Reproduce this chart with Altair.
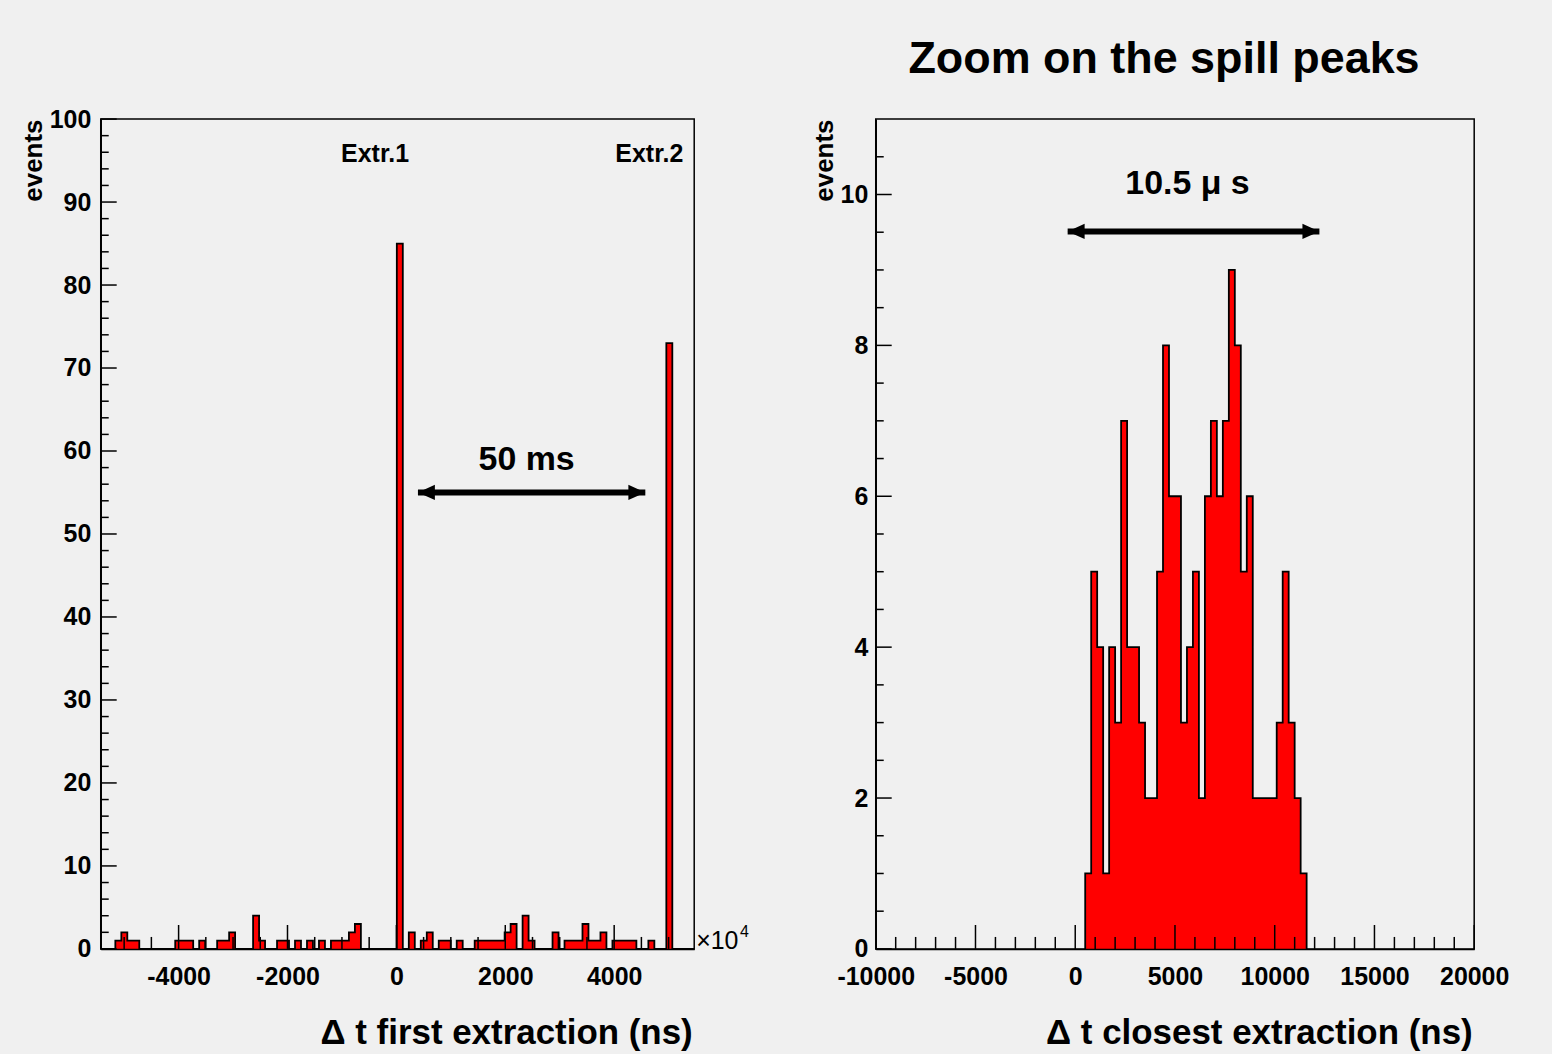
import altair as alt
import pandas as pd

FONT = "Liberation Sans"
BG = "#f0f0f0"
RED = "#ff0000"

# ---------------- data ----------------
# Left histogram: delta t to first extraction, in units of 1e4 ns
LEFT_LO = -5492
LEFT_W = 110
LEFT_N = 100
left_bin_index = [3, 4, 5, 6, 13, 14, 15, 17, 20, 21, 22, 26, 27, 30, 31, 33, 35, 37,
                  39, 40, 41, 42, 43, 50, 52, 54, 55, 57, 58, 60, 63, 64, 65, 66, 67,
                  68, 69, 71, 72, 76, 78, 79, 80, 81, 82, 83, 84, 86, 87, 88, 89, 92, 95]
left_bin_count = [1, 2, 1, 1, 1, 1, 1, 1, 1, 1, 2, 4, 1, 1, 1, 1, 1, 1,
                  1, 1, 1, 2, 3, 85, 2, 1, 2, 1, 1, 1, 1, 1, 1, 1, 1,
                  2, 3, 4, 1, 2, 1, 1, 1, 3, 1, 1, 2, 1, 1, 1, 1, 1, 73]

# Right histogram: delta t to closest extraction (ns)
RIGHT_LO = 500
RIGHT_W = 300
right_counts = [1, 5, 4, 1, 4, 3, 7, 4, 4, 3, 2, 2, 5, 8, 6, 6, 3, 4, 5, 2,
                6, 7, 6, 7, 9, 8, 5, 6, 2, 2, 2, 2, 3, 5, 3, 2, 1]

left_x_domain = [-5430, 5470]
left_y_domain = [0, 100]
right_x_domain = [-10000, 20000]
right_y_domain = [0, 11]

left_x_labels = [-4000, -2000, 0, 2000, 4000]
left_x_minor = [-5000, -4500, -3500, -3000, -2500, -1500, -1000, -500,
                500, 1000, 1500, 2500, 3000, 3500, 4500, 5000]
left_y_labels = [0, 10, 20, 30, 40, 50, 60, 70, 80, 90, 100]
left_y_minor = [v for v in range(2, 100, 2) if v % 10 != 0]
right_x_labels = [-10000, -5000, 0, 5000, 10000, 15000, 20000]
right_x_minor = [v for v in range(-9000, 20000, 1000) if v % 5000 != 0]
right_y_labels = [0, 2, 4, 6, 8, 10]
right_y_minor = [v / 2 for v in range(1, 22) if v % 4 != 0]

left_notes_text = ["Extr.1", "Extr.2"]
left_notes_x = [-392, 4645]
left_notes_y = [94.8, 94.8]
left_span_text = "50 ms"
left_span_x = 2392
left_span_y = 57.7
left_arrow_x = [396, 4572]
left_arrow_y = 55

right_span_text = "10.5 \u03bc s"
right_span_x = 5628
right_span_y = 10.0
right_arrow_x = [-380, 12240]
right_arrow_y = 9.51

LW, RW, H = 595, 600, 832
MAJ_X, MIN_X = 24, 12
MAJ_Y, MIN_Y = 16, 8
LABEL_EXPR = "'' + datum.value"

# ---------------- tables ----------------
lc = [0] * LEFT_N
for i, c in zip(left_bin_index, left_bin_count):
    lc[i] = c
left_area = pd.DataFrame({"x": [LEFT_LO + k * LEFT_W for k in range(LEFT_N + 1)],
                          "y": lc + [0]})
left_line = left_area.copy()
left_line["o"] = range(len(left_line))

rn = len(right_counts)
right_area = pd.DataFrame({"x": [RIGHT_LO + k * RIGHT_W for k in range(rn + 1)],
                           "y": right_counts + [0]})
right_line = pd.concat([pd.DataFrame({"x": [RIGHT_LO], "y": [0]}), right_area],
                       ignore_index=True)
right_line["o"] = range(len(right_line))


def make_panel(area_df, line_df, xdom, ydom, xlab, xmin, ylab, ymin, xtitle,
               xtitle_x, ytitle_x, ylabel_pad):
    xs = alt.Scale(domain=xdom, nice=False, zero=False)
    ys = alt.Scale(domain=ydom, nice=False, zero=False)
    xaxis = alt.Axis(values=xlab, labelExpr=LABEL_EXPR, ticks=False, grid=False,
                     domain=True, domainColor="black", domainWidth=1.5,
                     labelPadding=16, labelOverlap=False, labelFlush=False, zindex=1,
                     title=xtitle, titleX=xtitle_x, titleY=95, titleAlign="right",
                     titleBaseline="alphabetic", titleFontSize=35)
    yaxis = alt.Axis(values=ylab, labelExpr=LABEL_EXPR, ticks=False, grid=False,
                     domain=True, domainColor="black", domainWidth=1.5,
                     labelPadding=ylabel_pad, labelOverlap=False, labelFlush=False,
                     zindex=1, title="events", titleX=ytitle_x, titleY=0,
                     titleAngle=270, titleAlign="right", titleBaseline="top",
                     titleFontSize=26)

    def X(f):
        return alt.X(f, scale=xs, axis=xaxis)

    def Y(f):
        return alt.Y(f, scale=ys, axis=yaxis)

    layers = []
    layers.append(alt.Chart(area_df).mark_area(
        interpolate="step-after", color=RED, clip=True).encode(
        x=X("x:Q"), y=alt.Y("y:Q", scale=ys, axis=yaxis, stack=None)))
    layers.append(alt.Chart(line_df).mark_line(
        interpolate="step-after", color="black", strokeWidth=1.8, clip=True).encode(
        x=X("x:Q"), y=Y("y:Q"), order="o:Q"))
    for vals, ln in ((xlab, MAJ_X), (xmin, MIN_X)):
        layers.append(alt.Chart(pd.DataFrame({"v": vals})).mark_rule(
            color="black", strokeWidth=1.5).encode(
            x=X("v:Q"), y=alt.value(H), y2=alt.value(H - ln)))
    for vals, ln in ((ylab, MAJ_Y), (ymin, MIN_Y)):
        layers.append(alt.Chart(pd.DataFrame({"v": vals})).mark_rule(
            color="black", strokeWidth=1.5).encode(
            y=Y("v:Q"), x=alt.value(0), x2=alt.value(ln)))
    return X, Y, layers


def arrow(X, Y, xa, ya, size):
    r = alt.Chart(pd.DataFrame({"x1": [xa[0]], "x2": [xa[1]], "y": [ya]})).mark_rule(
        color="black", strokeWidth=6).encode(x=X("x1:Q"), x2="x2:Q", y=Y("y:Q"))
    hl = alt.Chart(pd.DataFrame({"x": [xa[0]], "y": [ya]})).mark_point(
        shape="M0,0L1,-0.45L1,0.45Z", filled=True, color="black", opacity=1,
        size=size).encode(x=X("x:Q"), y=Y("y:Q"))
    hr = alt.Chart(pd.DataFrame({"x": [xa[1]], "y": [ya]})).mark_point(
        shape="M0,0L-1,-0.45L-1,0.45Z", filled=True, color="black", opacity=1,
        size=size).encode(x=X("x:Q"), y=Y("y:Q"))
    return [r, hl, hr]


def text_layer(X, Y, texts, xv, yv, size, weight="bold", align="center", dx=0, dy=0):
    return alt.Chart(pd.DataFrame({"t": texts, "x": xv, "y": yv})).mark_text(
        font=FONT, fontWeight=weight, fontSize=size, baseline="alphabetic",
        align=align, dx=dx, dy=dy, color="black").encode(
        x=X("x:Q"), y=Y("y:Q"), text="t:N")


# ---------------- left panel ----------------
XL, YL, L = make_panel(left_area, left_line, left_x_domain, left_y_domain,
                       left_x_labels, left_x_minor, left_y_labels, left_y_minor,
                       "\u0394 t first extraction (ns)", LW - 2, -80, 10)
L.append(text_layer(XL, YL, left_notes_text, left_notes_x, left_notes_y, 25))
L.append(text_layer(XL, YL, [left_span_text], [left_span_x], [left_span_y], 34))
L += arrow(XL, YL, left_arrow_x, left_arrow_y, 1156)
L.append(text_layer(XL, YL, ["\u00d710"], [left_x_domain[1]], [0], 25,
                    weight="normal", align="left", dx=2))
L.append(text_layer(XL, YL, ["4"], [left_x_domain[1]], [0], 16,
                    weight="normal", align="left", dx=46, dy=-12))
left = alt.layer(*L).properties(width=LW, height=H)

# ---------------- right panel ----------------
XR, YR, R = make_panel(right_area, right_line, right_x_domain, right_y_domain,
                       right_x_labels, right_x_minor, right_y_labels, right_y_minor,
                       "\u0394 t closest extraction (ns)", RW - 2, -64, 8)
R.append(text_layer(XR, YR, [right_span_text], [right_span_x], [right_span_y], 34))
R += arrow(XR, YR, right_arrow_x, right_arrow_y, 1156)
right = alt.layer(*R).properties(
    width=RW, height=H,
    title=alt.TitleParams("Zoom on the spill peaks", font=FONT, fontWeight="bold",
                          fontSize=45, color="black", anchor="middle", dx=-11,
                          offset=37))

chart = alt.hconcat(left, right, spacing=182, bounds="flush").configure_view(
    stroke="black", strokeWidth=1.5, fill=BG
).configure_axis(
    labelFont=FONT, labelFontWeight="bold", labelFontSize=25, labelColor="black",
    titleFont=FONT, titleFontWeight="bold", titleColor="black"
).properties(background=BG, padding={"left": 20, "top": 35, "right": 42, "bottom": 5})

chart.save("out.html", embed_options={"renderer": "svg", "actions": False})
